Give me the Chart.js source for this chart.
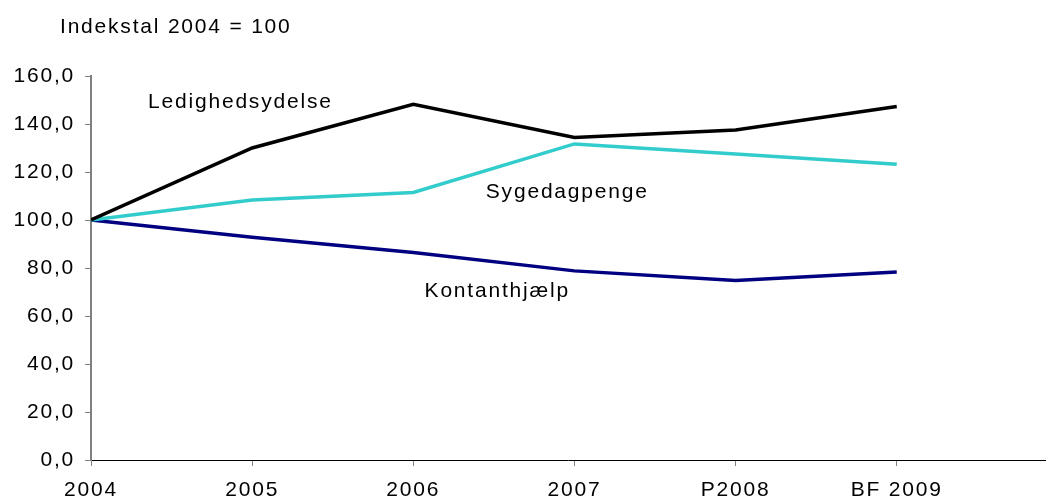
<!DOCTYPE html>
<html>
<head>
<meta charset="utf-8">
<script src="https://cdn.jsdelivr.net/npm/chart.js@4.4.1/dist/chart.umd.min.js"></script>
<style>
  html, body { margin: 0; padding: 0; background: #fff; }
  #wrap { width: 1048px; height: 500px; }
</style>
</head>
<body>
<div id="wrap"><canvas id="chart"></canvas></div>
<script>
// data
const years = ["2004", "2005", "2006", "2007", "P2008", "BF 2009"];
const ledighedsydelse = [100, 130.0, 148.2, 134.4, 137.5, 147.3];
const sygedagpenge = [100, 108.3, 111.5, 131.7, 127.5, 123.2];
const kontanthjaelp = [100, 92.8, 86.5, 78.8, 74.8, 78.3];
const yTicks = [0, 20, 40, 60, 80, 100, 120, 140, 160];

const titleText = "Indekstal 2004 = 100";

// series name labels placed inside the plot (x in category index, y in value)
const seriesLabels = [
  { text: "Ledighedsydelse", x: 0.354, y: 149 },
  { text: "Sygedagpenge", x: 2.45, y: 111.7 },
  { text: "Kontanthjælp", x: 2.07, y: 70.4 },
];

const FONT = "'Liberation Sans', Arial, sans-serif";
const FONT_SIZE = 21;
const SPACING = "1.8px";

function toPoints(values) {
  return values.map((v, i) => ({ x: i, y: v }));
}

let spacingPlugin = {
  id: "spacing",
  beforeLayout(chart) { chart.ctx.letterSpacing = SPACING; },
  beforeDraw(chart) { chart.ctx.letterSpacing = SPACING; },
};

let textPlugin = {
  id: "texts",
  afterDatasetsDraw(chart) {
    let ctx = chart.ctx;
    let xs = chart.scales.x, ys = chart.scales.y;
    ctx.save();
    ctx.letterSpacing = SPACING;
    ctx.fillStyle = "#000";
    ctx.font = FONT_SIZE + "px " + FONT;
    ctx.textBaseline = "middle";
    ctx.textAlign = "left";
    seriesLabels.forEach(l => {
      ctx.fillText(l.text, xs.getPixelForValue(l.x), ys.getPixelForValue(l.y));
    });
    ctx.fillText(titleText, 60, 27);
    ctx.restore();
  },
};

let ctx = document.getElementById("chart").getContext("2d");
let chart = new Chart(ctx, {
  type: "line",
  data: {
    datasets: [
      { label: "Ledighedsydelse", data: toPoints(ledighedsydelse), borderColor: "#000000", borderWidth: 3.5, pointRadius: 0, fill: false, tension: 0 },
      { label: "Sygedagpenge", data: toPoints(sygedagpenge), borderColor: "#33CCCC", borderWidth: 3.5, pointRadius: 0, fill: false, tension: 0 },
      { label: "Kontanthjælp", data: toPoints(kontanthjaelp), borderColor: "#000080", borderWidth: 3.5, pointRadius: 0, fill: false, tension: 0 },
    ],
  },
  options: {
    responsive: true,
    maintainAspectRatio: false,
    animation: false,
    layout: { padding: { top: 76, right: 3, left: 0, bottom: 0 } },
    plugins: {
      legend: { display: false },
      tooltip: { enabled: false },
      title: { display: false },
    },
    scales: {
      x: {
        type: "linear",
        min: 0,
        max: 5.92,
        afterBuildTicks(scale) {
          scale.ticks = years.map((y, i) => ({ value: i }));
        },
        afterFit(scale) { scale.height = 40; },
        ticks: {
          color: "#000",
          font: { family: FONT, size: FONT_SIZE },
          padding: 12,
          maxRotation: 0,
          autoSkip: false,
          callback: (v) => years[v],
        },
        grid: { display: true, drawOnChartArea: false, drawTicks: true, tickLength: 6, color: "#808080" },
        border: { display: true, color: "#000", width: 1 },
      },
      y: {
        min: 0,
        max: 160,
        afterBuildTicks(scale) {
          scale.ticks = yTicks.map(v => ({ value: v }));
        },
        afterFit(scale) { scale.width = 91; },
        ticks: {
          color: "#000",
          font: { family: FONT, size: FONT_SIZE },
          padding: 10,
          callback: (v) => v.toFixed(1).replace(".", ","),
        },
        grid: { display: true, drawOnChartArea: false, drawTicks: true, tickLength: 6, color: "#808080" },
        border: { display: true, color: "#808080", width: 2 },
      },
    },
  },
  plugins: [spacingPlugin, textPlugin],
});
</script>
</body>
</html>
